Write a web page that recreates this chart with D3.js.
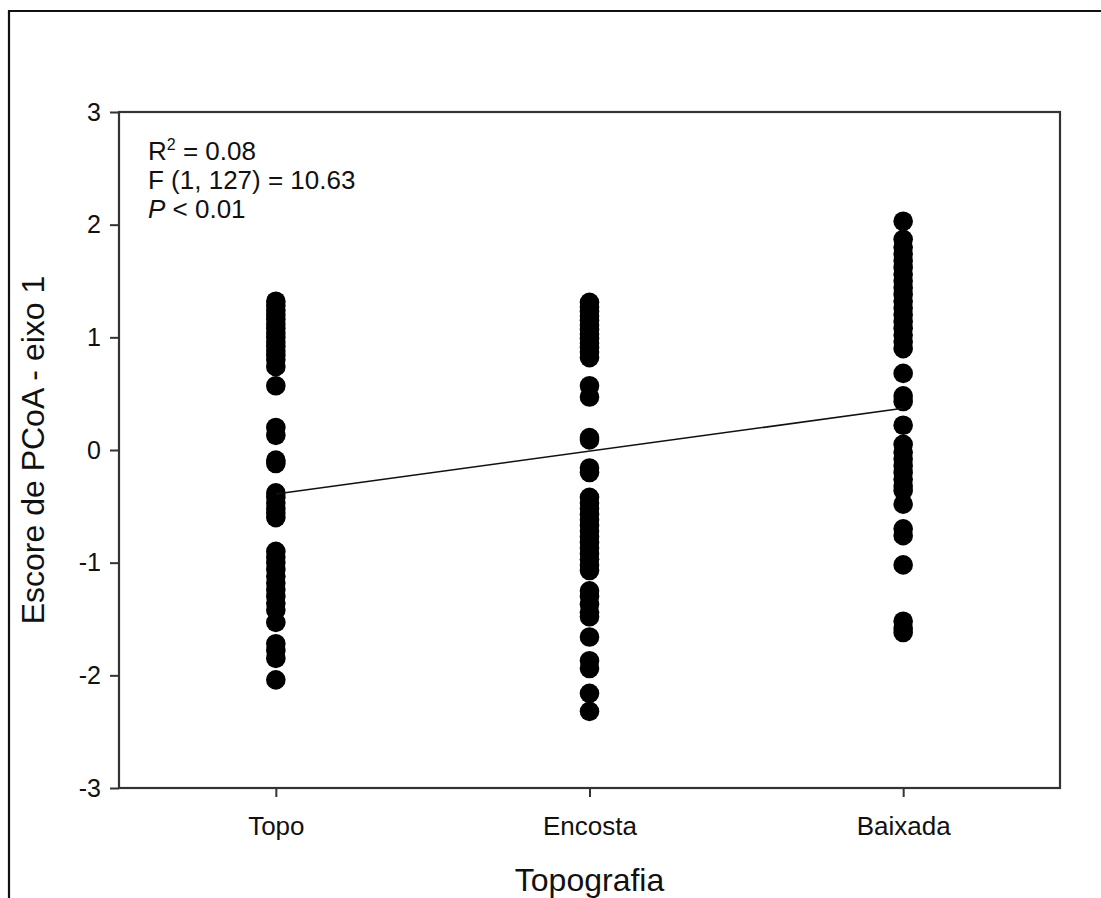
<!DOCTYPE html>
<html>
<head>
<meta charset="utf-8">
<script src="https://cdn.jsdelivr.net/npm/d3@7"></script>
<style>
  html, body { margin: 0; padding: 0; background: #fff; }
  svg { display: block; }
  text { font-family: "Liberation Sans", Arial, sans-serif; fill: #111; }
</style>
</head>
<body>
<svg id="chart" width="1101" height="898"></svg>
<script>
// Topographic positions on the x axis
const categories = ["Topo", "Encosta", "Baixada"];

// PCoA axis-1 scores per plot, grouped by topographic position
const topoScores = [1.32, 1.28, 1.24, 1.20, 1.16, 1.12, 1.08, 1.04, 1.00, 0.96, 0.92, 0.88, 0.84, 0.80, 0.74,
  0.57, 0.20, 0.13, -0.09, -0.12, -0.38, -0.42, -0.47, -0.52, -0.56, -0.60, -0.90, -0.95, -1.00, -1.06,
  -1.12, -1.18, -1.24, -1.30, -1.36, -1.42, -1.53, -1.72, -1.78, -1.85, -2.04];
const encostaScores = [1.31, 1.27, 1.23, 1.19, 1.15, 1.11, 1.07, 1.03, 0.99, 0.95, 0.91, 0.87, 0.82, 0.57,
  0.47, 0.11, 0.09, -0.16, -0.20, -0.42, -0.47, -0.52, -0.57, -0.62, -0.67, -0.72, -0.77, -0.82, -0.87,
  -0.92, -0.97, -1.02, -1.07, -1.25, -1.30, -1.37, -1.44, -1.48, -1.66, -1.87, -1.94, -2.16, -2.32];
const baixadaScores = [2.03, 1.87, 1.80, 1.74, 1.68, 1.62, 1.56, 1.50, 1.44, 1.38, 1.32, 1.26, 1.20, 1.14,
  1.08, 1.02, 0.96, 0.90, 0.68, 0.48, 0.43, 0.22, 0.05, -0.02, -0.08, -0.14, -0.20, -0.26, -0.32, -0.36,
  -0.48, -0.70, -0.76, -1.02, -1.52, -1.58, -1.62];

// Fitted regression line (score at first and last category)
const fitStart = -0.39;
const fitEnd = 0.37;

// Axis ticks
const yTicks = [-3, -2, -1, 0, 1, 2, 3];

const svg = d3.select("#chart");

// outer figure frame
svg.append("path")
  .attr("d", "M9,900 L9,11 L1103,11")
  .attr("fill", "none").attr("stroke", "#111").attr("stroke-width", 2.2);

const plot = { left: 119, right: 1060, top: 112, bottom: 788 };

const x = d3.scaleLinear().domain([0.5, 3.5]).range([plot.left, plot.right]);
const y = d3.scaleLinear().domain([-3, 3]).range([plot.bottom, plot.top]);

// plot frame
svg.append("rect")
  .attr("x", plot.left).attr("y", plot.top)
  .attr("width", plot.right - plot.left).attr("height", plot.bottom - plot.top)
  .attr("fill", "none").attr("stroke", "#333").attr("stroke-width", 2.2);

// y axis
const yAxis = svg.append("g")
  .attr("transform", `translate(${plot.left},0)`)
  .call(d3.axisLeft(y).tickValues(yTicks).tickFormat(d => String(d)).tickSize(9).tickPadding(9));
yAxis.select(".domain").remove();
yAxis.selectAll(".tick line").attr("stroke", "#333").attr("stroke-width", 2);
yAxis.selectAll(".tick text")
  .style("font-family", "'Liberation Sans', Arial, sans-serif")
  .style("font-size", "25px").attr("fill", "#111");

// x axis
const xAxis = svg.append("g")
  .attr("transform", `translate(0,${plot.bottom})`)
  .call(d3.axisBottom(x).tickValues([1, 2, 3]).tickFormat(d => categories[d - 1]).tickSize(9).tickPadding(20));
xAxis.select(".domain").remove();
xAxis.selectAll(".tick line").attr("stroke", "#333").attr("stroke-width", 2);
xAxis.selectAll(".tick text")
  .style("font-family", "'Liberation Sans', Arial, sans-serif")
  .style("font-size", "26px").attr("fill", "#111");

// axis titles
svg.append("text")
  .attr("x", (plot.left + plot.right) / 2).attr("y", 891)
  .attr("text-anchor", "middle").style("font-size", "32px")
  .text("Topografia");

svg.append("text")
  .attr("transform", `translate(44,${(plot.top + plot.bottom) / 2}) rotate(-90)`)
  .attr("text-anchor", "middle").style("font-size", "32px")
  .text("Escore de PCoA - eixo 1");

// points
const groups = [topoScores, encostaScores, baixadaScores];
const points = groups.flatMap((vals, i) => vals.map(v => ({ cat: i + 1, v })));
svg.append("g").selectAll("circle")
  .data(points).join("circle")
  .attr("cx", d => x(d.cat)).attr("cy", d => y(d.v))
  .attr("r", 9.8).attr("fill", "#000");

// regression line
svg.append("line")
  .attr("x1", x(1)).attr("y1", y(fitStart))
  .attr("x2", x(3)).attr("y2", y(fitEnd))
  .attr("stroke", "#111").attr("stroke-width", 1.6);

// statistics annotation
const ann = svg.append("g").style("font-size", "26px");
const r2 = ann.append("text").attr("x", 148).attr("y", 160);
r2.append("tspan").text("R");
r2.append("tspan").attr("dy", -10).style("font-size", "16px").text("2");
r2.append("tspan").attr("dy", 10).text(" = 0.08");
ann.append("text").attr("x", 148).attr("y", 189).text("F (1, 127) = 10.63");
const p = ann.append("text").attr("x", 148).attr("y", 218);
p.append("tspan").style("font-style", "italic").text("P");
p.append("tspan").text(" < 0.01");
</script>
</body>
</html>
